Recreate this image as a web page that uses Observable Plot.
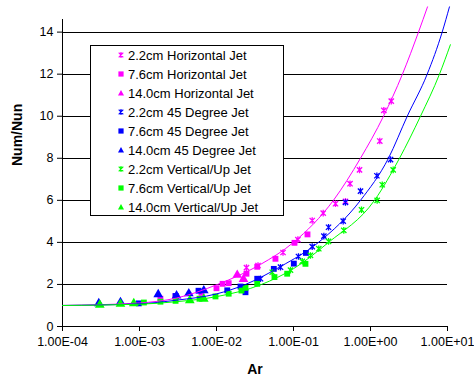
<!DOCTYPE html>
<html><head><meta charset="utf-8">
<script src="https://cdn.jsdelivr.net/npm/d3@7"></script>
<script src="https://cdn.jsdelivr.net/npm/@observablehq/plot@0.6"></script>
<style>
body{margin:0;background:#fff;}
#wrap{position:relative;width:474px;height:381px;font-family:"Liberation Sans",Arial,sans-serif;}
#legend{position:absolute;left:90px;top:45px;width:192px;height:169px;border:1px solid #000;background:#fff;}
.row{position:absolute;left:0;height:19px;display:flex;align-items:center;font-size:13px;color:#000;white-space:nowrap;}
.row svg{margin-left:26px;margin-right:3px;display:block;}
</style></head><body><div id="wrap"></div>
<script>
// ---- axis ticks ----
const xTicks = [1e-4, 1e-3, 1e-2, 1e-1, 1, 10];
const xTickLabels = ["1.00E-04", "1.00E-03", "1.00E-02", "1.00E-01", "1.00E+00", "1.00E+01"];
const yTicks = [0, 2, 4, 6, 8, 10, 12, 14];

// ---- series names / colours ----
const seriesNames = ["2.2cm Horizontal Jet", "7.6cm Horizontal Jet", "14.0cm Horizontal Jet",
  "2.2cm 45 Degree Jet", "7.6cm 45 Degree Jet", "14.0cm 45 Degree Jet",
  "2.2cm Vertical/Up Jet", "7.6cm Vertical/Up Jet", "14.0cm Vertical/Up Jet"];
const seriesColors = ["#ff00ff", "#ff00ff", "#ff00ff", "#0000ff", "#0000ff", "#0000ff", "#00ff00", "#00ff00", "#00ff00"];
const seriesSymbols = ["asterisk", "square", "triangle", "asterisk", "square", "triangle", "asterisk", "square", "triangle"];

// ---- measured points ----
const h22X = [0.0245, 0.0346, 0.0731, 0.114, 0.175, 0.243, 0.351, 0.473, 0.542, 0.720, 1.32, 1.49, 1.86];
const h22Y = [2.80, 2.90, 3.52, 4.13, 5.04, 5.39, 5.84, 5.95, 6.79, 7.45, 8.82, 10.28, 10.72];
const h76X = [0.00187, 0.00294, 0.00638, 0.0100, 0.0120, 0.0144, 0.0245, 0.0338, 0.0583, 0.103, 0.152];
const h76Y = [1.32, 1.44, 1.60, 1.82, 2.03, 2.06, 2.51, 2.84, 3.22, 3.98, 4.38];
const h140X = [0.0186, 0.0224];
const h140Y = [2.45, 2.25];
const d22X = [0.0373, 0.0678, 0.116, 0.175, 0.248, 0.285, 0.442, 0.473, 0.741, 1.21, 1.82];
const d22Y = [2.27, 2.82, 3.33, 3.80, 4.30, 4.72, 5.01, 5.90, 6.44, 7.17, 7.94];
const d76X = [0.00098, 0.00294, 0.00584, 0.0138, 0.0205, 0.0238, 0.0338, 0.0555, 0.101, 0.145];
const d76Y = [1.10, 1.45, 1.70, 1.72, 1.90, 1.63, 2.27, 2.74, 2.99, 3.50];
const d140X = [0.000296, 0.000566, 0.00175, 0.00303, 0.00437, 0.00684];
const d140Y = [1.10, 1.15, 1.53, 1.47, 1.57, 1.71];
const v22X = [0.0529, 0.0914, 0.130, 0.166, 0.213, 0.285, 0.450, 0.764, 1.22, 1.42, 1.97];
const v22Y = [2.58, 2.68, 3.10, 3.38, 3.70, 4.05, 4.57, 5.55, 6.00, 6.74, 7.45];
const v76X = [0.00114, 0.00187, 0.00294, 0.00601, 0.0097, 0.0144, 0.0211, 0.0238, 0.0338, 0.0566, 0.0828, 0.143];
const v76Y = [1.14, 1.18, 1.22, 1.32, 1.43, 1.56, 1.71, 1.84, 2.03, 2.35, 2.51, 2.98];
const v140X = [0.000305, 0.000566, 0.000843, 0.0045, 0.00684];
const v140Y = [1.03, 1.07, 1.10, 1.24, 1.31];

// ---- fitted trend curves ----
const fitHX = [1e-4, 1e-3, 3e-3, 0.0103, 0.0372, 0.1, 0.33, 0.741, 1.475, 2.6, 4.2, 5.5];
const fitHY = [1.0, 1.12, 1.35, 2.0, 2.95, 4.0, 6.0, 8.0, 10.0, 12.0, 14.0, 15.2];
const fitDX = [1e-4, 1e-3, 3e-3, 0.01, 0.0238, 0.0678, 0.211, 0.741, 1.71, 3.0, 5.45, 8.53, 10.6];
const fitDY = [1.0, 1.08, 1.25, 1.55, 2.0, 2.85, 4.0, 6.0, 8.0, 10.0, 12.0, 14.0, 15.2];
const fitVX = [1e-4, 1e-3, 3e-3, 0.01, 0.0384, 0.1, 0.285, 1.127, 2.38, 4.46, 7.87, 10.9];
const fitVY = [1.0, 1.06, 1.18, 1.42, 2.0, 2.75, 4.0, 6.0, 8.0, 10.0, 12.0, 13.4];
const fitColors = ["#ff00ff", "#0000ff", "#00ff00"];

const seriesX = [h22X, h76X, h140X, d22X, d76X, d140X, v22X, v76X, v140X];
const seriesY = [h22Y, h76Y, h140Y, d22Y, d76Y, d140Y, v22Y, v76Y, v140Y];

const pts = [];
seriesX.forEach((xs, i) => xs.forEach((x, j) => pts.push({x, y: seriesY[i][j], c: seriesColors[i], k: i})));
const fits = [];
[[fitHX, fitHY], [fitDX, fitDY], [fitVX, fitVY]].forEach(([xs, ys], i) => xs.forEach((x, j) => fits.push({x, y: ys[j], s: i, c: fitColors[i]})));

// Excel-style star marker: an X crossed by a vertical bar
const starSymbol = {
  draw(ctx, size) {
    const r = Math.sqrt(size / Math.PI);
    const a = r * 0.8;
    ctx.moveTo(-a, -a); ctx.lineTo(a, a);
    ctx.moveTo(a, -a); ctx.lineTo(-a, a);
    ctx.moveTo(0, -r); ctx.lineTo(0, r);
  }
};

const marks = [
  Plot.ruleY(yTicks.filter(d => d > 0), {stroke: "#000", strokeWidth: 1, shapeRendering: "crispEdges"}),
  Plot.ruleX([1e-4], {stroke: "#000", strokeWidth: 1, shapeRendering: "crispEdges"}),
  Plot.ruleY([0], {stroke: "#000", strokeWidth: 1, shapeRendering: "crispEdges"}),
  Plot.axisX(xTicks, {tickSize: 5, tickPadding: 6, tickFormat: d => xTickLabels[xTicks.indexOf(d)], label: null, fontSize: 12.5}),
  Plot.axisY(yTicks, {tickSize: 5, tickPadding: 4, label: null, fontSize: 12.5}),
  Plot.text(["Num/Nun"], {frameAnchor: "left", rotate: -90, dx: -45, dy: -7, fontWeight: "bold", fontSize: 14}),
  Plot.text(["Ar"], {frameAnchor: "bottom", dy: 47, fontWeight: "bold", fontSize: 14})
];
for (let i = 0; i < 9; i++) {
  const d = pts.filter(p => p.k === i);
  if (seriesSymbols[i] === "asterisk") {
    marks.push(Plot.dot(d, {x: "x", y: "y", symbol: starSymbol, r: 3.3, stroke: "c", strokeWidth: 1.3}));
  } else if (seriesSymbols[i] === "square") {
    marks.push(Plot.dot(d, {x: "x", y: "y", symbol: "square", r: 3.3, fill: "c", stroke: "none"}));
  } else {
    marks.push(Plot.dot(d, {x: "x", y: "y", symbol: "triangle", r: 3.6, fill: "c", stroke: "none"}));
  }
}
marks.push(Plot.line(fits, {x: "x", y: "y", z: "s", stroke: "c", strokeWidth: 1, curve: "monotone-x"}));

const chart = Plot.plot({
  width: 474, height: 381,
  marginLeft: 62, marginRight: 27, marginTop: 19, marginBottom: 55,
  x: {type: "log", domain: [1e-4, 10]},
  y: {domain: [0, 14.6]},
  color: {type: "identity"},
  style: {fontFamily: "'Liberation Sans', Arial, sans-serif", fontSize: "12.5px", color: "#000", background: "#fff", overflow: "visible"},
  marks
});
const wrap = document.getElementById("wrap");
wrap.appendChild(chart);

// ---- legend ----
const legend = document.createElement("div");
legend.id = "legend";
function markerSvg(sym, color) {
  if (sym === "asterisk") return `<svg width="8" height="8" viewBox="-4 -4 8 8"><path d="M-2.3,-2.3L2.3,2.3M2.3,-2.3L-2.3,2.3M0,-3V3" stroke="${color}" stroke-width="1.2" fill="none"/></svg>`;
  if (sym === "square") return `<svg width="8" height="8" viewBox="-4 -4 8 8"><rect x="-2.6" y="-2.6" width="5.2" height="5.2" fill="${color}"/></svg>`;
  return `<svg width="8" height="8" viewBox="-4 -4 8 8"><path d="M0,-3L3,2.6H-3Z" fill="${color}"/></svg>`;
}
seriesNames.forEach((name, i) => {
  const row = document.createElement("div");
  row.className = "row";
  row.style.top = (i * 19 - 0.5) + "px";
  row.innerHTML = markerSvg(seriesSymbols[i], seriesColors[i]) + `<span>${name}</span>`;
  legend.appendChild(row);
});
wrap.appendChild(legend);
</script>
</body></html>
